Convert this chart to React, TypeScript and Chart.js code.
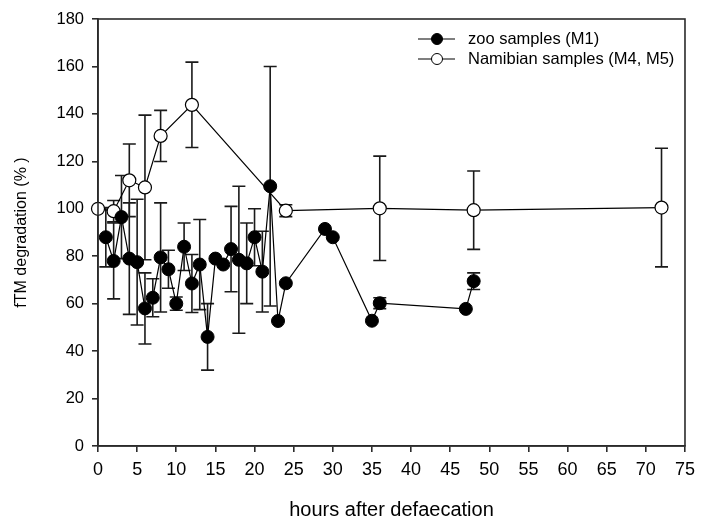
import React, { useEffect, useRef } from "react";
import { Chart, registerables } from "chart.js";

Chart.register(...registerables);

// ---- data ----
const zooHours = [1, 2, 3, 4, 5, 6, 7, 8, 9, 10, 11, 12, 13, 14, 15, 16, 17, 18, 19, 20, 21, 22, 23, 24, 29, 30, 35, 36, 47, 48];
const zooValues = [88, 78, 96.5, 79, 77.5, 58, 62.5, 79.5, 74.5, 60, 84, 68.5, 76.5, 46, 79, 76.5, 83, 78.5, 77, 88, 73.5, 109.5, 52.7, 68.6, 91.5, 88, 52.8, 60.2, 57.8, 69.5];
const zooErrors = [12.5, 16, 17.5, 23.5, 26.5, 15, 8, 23, 8, 2.8, 10, 12.2, 19, 14, 0, 0, 18, 31, 17, 12, 17, 50.5, 0, 0, 0, 0, 0, 2.3, 0, 3.5];

const namHours = [0, 2, 4, 6, 8, 12, 24, 36, 48, 72];
const namValues = [100, 99, 112, 109, 130.7, 143.8, 99.2, 100.2, 99.4, 100.5];
const namErrors = [0, 4.5, 15.3, 30.5, 10.8, 18, 2.5, 22, 16.5, 25];

const seriesNames = ["zoo samples (M1)", "Namibian samples (M4, M5)"];
const xTitle = "hours after defaecation";
const yTitle = "fTM degradation (% )";

const FONT = "Arial, 'Liberation Sans', sans-serif";
const AXIS_COLOR = "#2b2b2b";

const errorBarPlugin = {
  id: "errorBars",
  beforeDatasetsDraw(chart: any) {
    const { ctx, scales } = chart;
    const x = scales.x;
    const y = scales.y;
    const errs = [zooErrors, namErrors];
    ctx.save();
    ctx.strokeStyle = "#1a1a1a";
    ctx.lineWidth = 1.6;
    chart.data.datasets.forEach((ds: any, di: number) => {
      ds.data.forEach((p: any, i: number) => {
        const e = errs[di][i];
        if (!e) return;
        const px = x.getPixelForValue(p.x);
        const top = y.getPixelForValue(p.y + e);
        const bot = y.getPixelForValue(p.y - e);
        const cw = 6.5;
        ctx.beginPath();
        ctx.moveTo(px, top);
        ctx.lineTo(px, bot);
        ctx.moveTo(px - cw, top);
        ctx.lineTo(px + cw, top);
        ctx.moveTo(px - cw, bot);
        ctx.lineTo(px + cw, bot);
        ctx.stroke();
      });
    });
    ctx.restore();
  },
};

const framePlugin = {
  id: "frame",
  afterDraw(chart: any) {
    const { ctx, chartArea } = chart;
    ctx.save();
    ctx.strokeStyle = AXIS_COLOR;
    ctx.lineWidth = 1.6;
    ctx.strokeRect(chartArea.left, chartArea.top, chartArea.right - chartArea.left, chartArea.bottom - chartArea.top);
    ctx.restore();
  },
};

const legendPlugin = {
  id: "customLegend",
  afterDraw(chart: any) {
    const { ctx, chartArea } = chart;
    const x0 = chartArea.left + 320;
    const y0 = chartArea.top + 20;
    const rowH = 20;
    ctx.save();
    chart.data.datasets.forEach((ds: any, i: number) => {
      const yy = y0 + i * rowH;
      ctx.strokeStyle = "#000";
      ctx.lineWidth = 1.2;
      ctx.beginPath();
      ctx.moveTo(x0, yy);
      ctx.lineTo(x0 + 37, yy);
      ctx.stroke();
      ctx.beginPath();
      ctx.arc(x0 + 19, yy, 5.5, 0, Math.PI * 2);
      ctx.fillStyle = ds.backgroundColor;
      ctx.fill();
      ctx.lineWidth = 1;
      ctx.stroke();
      ctx.fillStyle = "#000";
      ctx.font = `16.5px ${FONT}`;
      ctx.textAlign = "left";
      ctx.textBaseline = "middle";
      ctx.fillText(seriesNames[i], x0 + 50, yy);
    });
    ctx.restore();
  },
};

export default function App() {
  const ref = useRef<HTMLCanvasElement | null>(null);

  useEffect(() => {
    if (!ref.current) return;
    const chart = new Chart(ref.current, {
      type: "scatter",
      data: {
        datasets: [
          {
            label: seriesNames[0],
            data: zooHours.map((h, i) => ({ x: h, y: zooValues[i] })),
            showLine: true,
            borderColor: "#000",
            borderWidth: 1.2,
            backgroundColor: "#000",
            pointBackgroundColor: "#000",
            pointBorderColor: "#000",
            pointBorderWidth: 1,
            pointRadius: 6.5,
            pointHoverRadius: 6.5,
            clip: false as any,
          },
          {
            label: seriesNames[1],
            data: namHours.map((h, i) => ({ x: h, y: namValues[i] })),
            showLine: true,
            borderColor: "#000",
            borderWidth: 1.2,
            backgroundColor: "#fff",
            pointBackgroundColor: "#fff",
            pointBorderColor: "#000",
            pointBorderWidth: 1.2,
            pointRadius: 6.5,
            pointHoverRadius: 6.5,
            clip: false as any,
          },
        ],
      },
      options: {
        responsive: false,
        animation: false,
        events: [],
        layout: { padding: { top: 19, right: 9, left: 0, bottom: 0 } },
        plugins: {
          legend: { display: false },
          tooltip: { enabled: false },
        },
        scales: {
          x: {
            type: "linear",
            min: 0,
            max: 75,
            ticks: {
              stepSize: 5,
              color: "#000",
              font: { size: 18, family: FONT },
              padding: 7,
              maxRotation: 0,
            },
            grid: {
              drawOnChartArea: false,
              drawTicks: true,
              tickLength: 6,
              color: AXIS_COLOR,
              lineWidth: 1.6,
            },
            border: { display: true, color: AXIS_COLOR, width: 1.6 },
            title: {
              display: true,
              text: xTitle,
              color: "#000",
              font: { size: 20, family: FONT },
              padding: { top: 0, bottom: 0 },
            },
            afterFit: (axis: any) => {
              axis.height = 76;
            },
          },
          y: {
            type: "linear",
            min: 0,
            max: 180,
            ticks: {
              stepSize: 20,
              color: "#000",
              font: { size: 16.5, family: FONT },
              padding: 8,
            },
            grid: {
              drawOnChartArea: false,
              drawTicks: true,
              tickLength: 6,
              color: AXIS_COLOR,
              lineWidth: 1.6,
            },
            border: { display: true, color: AXIS_COLOR, width: 1.6 },
            title: {
              display: true,
              text: yTitle,
              color: "#000",
              font: { size: 16, family: FONT },
              padding: { top: 12, bottom: 0 },
            },
            afterFit: (axis: any) => {
              axis.width = 98;
            },
          },
        },
      },
      plugins: [errorBarPlugin, framePlugin, legendPlugin],
    });
    return () => chart.destroy();
  }, []);

  return (
    <div style={{ position: "fixed", left: 0, top: 0, width: 702, height: 522, background: "#fff" }}>
      <canvas ref={ref} width={702} height={522} style={{ display: "block" }} />
    </div>
  );
}
